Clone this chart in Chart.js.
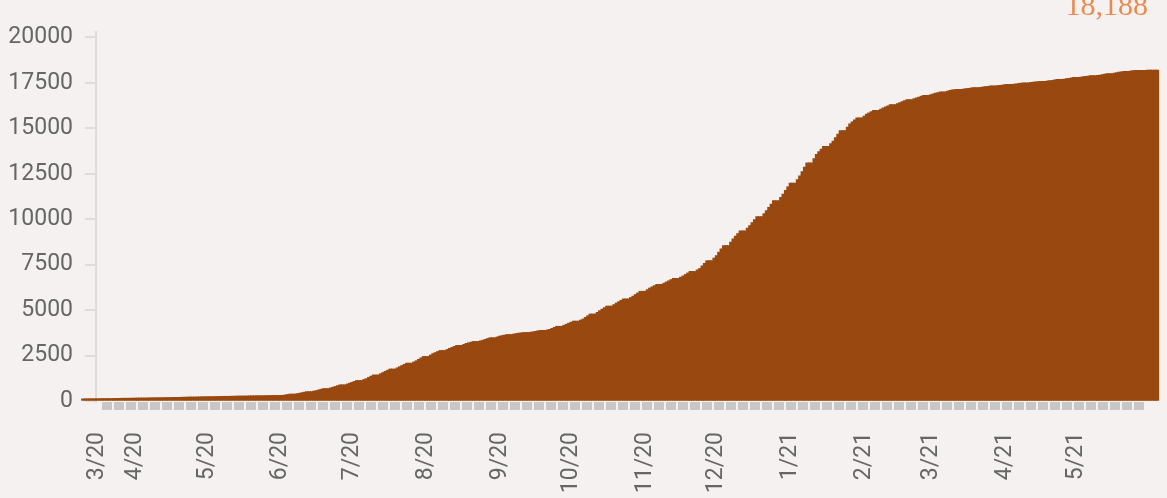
<!DOCTYPE html>
<html>
<head>
<meta charset="utf-8">
<script src="https://cdn.jsdelivr.net/npm/chart.js@4"></script>
<style>
    body { margin: 0; background: #f4f1f0; }
    #wrap { position: relative; width: 1167px; height: 498px; overflow: hidden; }
    #total {
        position: absolute; right: 19px; top: -10px;
        font-family: 'Liberation Serif', serif; font-size: 30px;
        color: #e98b4f; line-height: 30px;
    }
</style>
</head>
<body>
<div id="wrap">
    <canvas id="casesChart" width="1167" height="498"></canvas>
    <div id="total">18,188</div>
</div>
<script>
// daily cumulative totals, first bar = 3/10/2020, one row per week (Tue..Mon)
const cumulative = [
    110, 112, 114, 116, 116, 116, 118,
    120, 123, 126, 129, 129, 129, 132,
    135, 138, 141, 144, 144, 144, 147,
    150, 153, 156, 159, 159, 159, 162,
    165, 168, 171, 174, 174, 174, 177,
    180, 184, 188, 192, 192, 192, 196,
    200, 204, 208, 212, 212, 212, 216,
    220, 224, 227, 231, 231, 231, 234,
    238, 242, 245, 249, 249, 249, 252,
    256, 260, 264, 267, 267, 267, 271,
    275, 278, 280, 283, 283, 283, 285,
    288, 291, 295, 298, 298, 298, 302,
    305, 328, 351, 374, 374, 374, 397,
    420, 449, 478, 507, 507, 507, 536,
    565, 602, 639, 676, 676, 676, 713,
    750, 794, 838, 882, 882, 882, 926,
    970, 1020, 1070, 1120, 1120, 1120, 1170,
    1220, 1288, 1356, 1424, 1424, 1424, 1492,
    1560, 1624, 1688, 1752, 1752, 1752, 1816,
    1880, 1945, 2010, 2075, 2075, 2075, 2140,
    2205, 2284, 2363, 2442, 2442, 2442, 2521,
    2600, 2657, 2714, 2771, 2771, 2771, 2828,
    2885, 2940, 2995, 3050, 3050, 3050, 3105,
    3160, 3196, 3232, 3268, 3268, 3268, 3304,
    3340, 3384, 3428, 3472, 3472, 3472, 3516,
    3560, 3589, 3618, 3647, 3647, 3647, 3676,
    3705, 3723, 3741, 3759, 3759, 3759, 3777,
    3795, 3822, 3849, 3876, 3876, 3876, 3903,
    3930, 3987, 4044, 4101, 4101, 4101, 4158,
    4215, 4272, 4329, 4386, 4386, 4386, 4443,
    4500, 4592, 4684, 4776, 4776, 4776, 4868,
    4960, 5044, 5128, 5212, 5212, 5212, 5296,
    5380, 5456, 5532, 5608, 5608, 5608, 5684,
    5760, 5849, 5938, 6027, 6027, 6027, 6116,
    6205, 6272, 6339, 6406, 6406, 6406, 6473,
    6540, 6606, 6672, 6738, 6738, 6738, 6804,
    6870, 6952, 7034, 7116, 7116, 7116, 7198,
    7280, 7423, 7566, 7709, 7709, 7709, 7852,
    7995, 8178, 8361, 8544, 8544, 8544, 8727,
    8910, 9056, 9202, 9348, 9348, 9348, 9494,
    9640, 9804, 9968, 10132, 10132, 10132, 10296,
    10460, 10643, 10826, 11009, 11009, 11009, 11192,
    11375, 11575, 11775, 11975, 11975, 11975, 12175,
    12375, 12612, 12849, 13086, 13086, 13086, 13323,
    13560, 13706, 13852, 13998, 13998, 13998, 14144,
    14290, 14480, 14670, 14860, 14860, 14860, 15050,
    15240, 15346, 15452, 15558, 15558, 15558, 15664,
    15770, 15838, 15906, 15974, 15974, 15974, 16042,
    16110, 16170, 16230, 16290, 16290, 16290, 16350,
    16410, 16462, 16514, 16566, 16566, 16566, 16618,
    16670, 16712, 16754, 16796, 16796, 16796, 16838,
    16880, 16920, 16960, 17000, 17000, 17000, 17040,
    17080, 17099, 17118, 17137, 17137, 17137, 17156,
    17175, 17193, 17211, 17229, 17229, 17229, 17247,
    17265, 17283, 17301, 17319, 17319, 17319, 17337,
    17355, 17372, 17389, 17406, 17406, 17406, 17423,
    17440, 17458, 17476, 17494, 17494, 17494, 17512,
    17530, 17546, 17562, 17578, 17578, 17578, 17594,
    17610, 17632, 17654, 17676, 17676, 17676, 17698,
    17720, 17742, 17764, 17786, 17786, 17786, 17808,
    17830, 17848, 17866, 17884, 17884, 17884, 17902,
    17920, 17946, 17972, 17998, 17998, 17998, 18024,
    18050, 18074, 18098, 18122, 18122, 18122, 18146,
    18170, 18174, 18178, 18182, 18182, 18182, 18186,
    18188, 18188, 18188, 18188
];
// day index (from 3/10/2020) of each date label
const tickDays = [6, 22, 52, 83, 113, 144, 175, 205, 236, 266, 297, 328, 356, 387, 417];
const tickLabels = ['3/20', '4/20', '5/20', '6/20', '7/20', '8/20', '9/20', '10/20',
    '11/20', '12/20', '1/21', '2/21', '3/21', '4/21', '5/21'];
const yTicks = [0, 2500, 5000, 7500, 10000, 12500, 15000, 17500, 20000];

const xMin = 5.5;
const xMax = 447.5;

Chart.defaults.font.family = 'Roboto';
Chart.defaults.color = '#666';

const ctx = document.getElementById('casesChart').getContext('2d');
new Chart(ctx, {
    type: 'bar',
    data: {
        datasets: [{
            data: cumulative.map((v, i) => ({ x: i, y: v })),
            backgroundColor: '#99480f',
            borderWidth: 0,
            barPercentage: 1,
            categoryPercentage: 1,
            inflateAmount: 0.6,
            clip: false
        }]
    },
    options: {
        responsive: false,
        animation: false,
        devicePixelRatio: 1,
        layout: { padding: { left: 8, right: 18, top: 32, bottom: 0 } },
        plugins: { legend: { display: false }, tooltip: { enabled: false } },
        scales: {
            // gray block strip under the baseline
            strip: {
                type: 'linear',
                position: 'bottom',
                weight: 0,
                min: xMin,
                max: xMax,
                offset: false,
                border: { display: false },
                grid: { drawOnChartArea: false, drawTicks: true, tickLength: 8, lineWidth: 10, color: '#c9c7c6' },
                ticks: { display: false },
                afterBuildTicks: scale => {
                    const t = [];
                    for (let k = 0; k < 88; k++) t.push({ value: xMin + 2.1 + k * 5.038 });
                    scale.ticks = t;
                },
                afterFit: scale => { scale.height = 8; }
            },
            x: {
                type: 'linear',
                position: 'bottom',
                weight: 1,
                min: xMin,
                max: xMax,
                offset: false,
                grid: { display: false, drawTicks: false },
                border: { display: false },
                ticks: {
                    autoSkip: false,
                    minRotation: 90,
                    maxRotation: 90,
                    padding: 22,
                    font: { size: 23 },
                    color: '#666',
                    callback: v => tickLabels[tickDays.indexOf(v)] || ''
                },
                afterBuildTicks: scale => { scale.ticks = tickDays.map(d => ({ value: d })); },
                afterFit: scale => { scale.height = 88; }
            },
            y: {
                min: -50,
                max: 20300,
                grid: { drawOnChartArea: false, drawTicks: true, tickLength: 11, color: '#dddddd', lineWidth: 2 },
                border: { display: true, color: '#dddddd', width: 2 },
                ticks: { padding: 12, font: { size: 23 }, color: '#666', callback: v => String(v) },
                afterBuildTicks: scale => { scale.ticks = yTicks.map(v => ({ value: v })); },
                afterFit: scale => { scale.width = 88; }
            }
        }
    }
});
</script>
</body>
</html>
